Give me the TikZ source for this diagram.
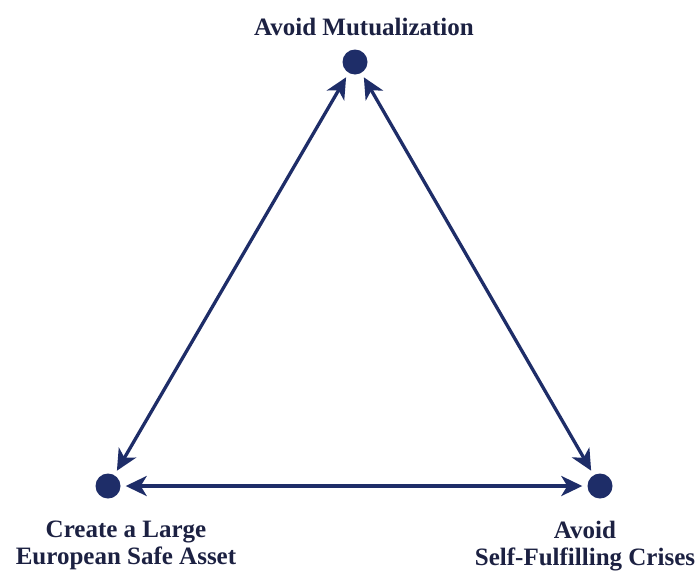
\documentclass[tikz,border=0pt]{standalone}
\usepackage{fontspec}
\setmainfont{Liberation Serif}
\usetikzlibrary{arrows.meta}
\definecolor{navy}{HTML}{1E2D68}
\definecolor{ink}{HTML}{1C2142}
\begin{document}
\begin{tikzpicture}[x=1pt,y=-1pt,
  vertex/.style={circle,fill=navy,inner sep=0pt,minimum size=25pt},
  link/.style={navy,line width=3.3pt,
    {Stealth[length=21pt,width=20pt,inset=6pt]}-{Stealth[length=21pt,width=20pt,inset=6pt]},
    shorten <=5pt,shorten >=5pt},
  caption/.style={text=ink,inner sep=0pt,align=center,
    font=\fontsize{25}{27}\selectfont\bfseries}]
\useasboundingbox[fill=white] (0,0) rectangle (696,573);
% the three corners of the triangle
\node[vertex] (mut) at (355,62) {};
\node[vertex] (safe) at (108,486) {};
\node[vertex] (crisis) at (600,486) {};
% two-way links between the goals
\draw[link] (mut) -- (safe);
\draw[link] (mut) -- (crisis);
\draw[link] (safe) -- (crisis);
% goal captions
\node[caption,anchor=base] (mutlabel) at (364,35) {Avoid Mutualization};
\node[caption,anchor=north] (safelabel) at (126,521) {Create a Large\\European Safe Asset};
\node[caption,anchor=north] (crisislabel) at (585,521) {Avoid\\Self-Fulfilling Crises};
\end{tikzpicture}
\end{document}
